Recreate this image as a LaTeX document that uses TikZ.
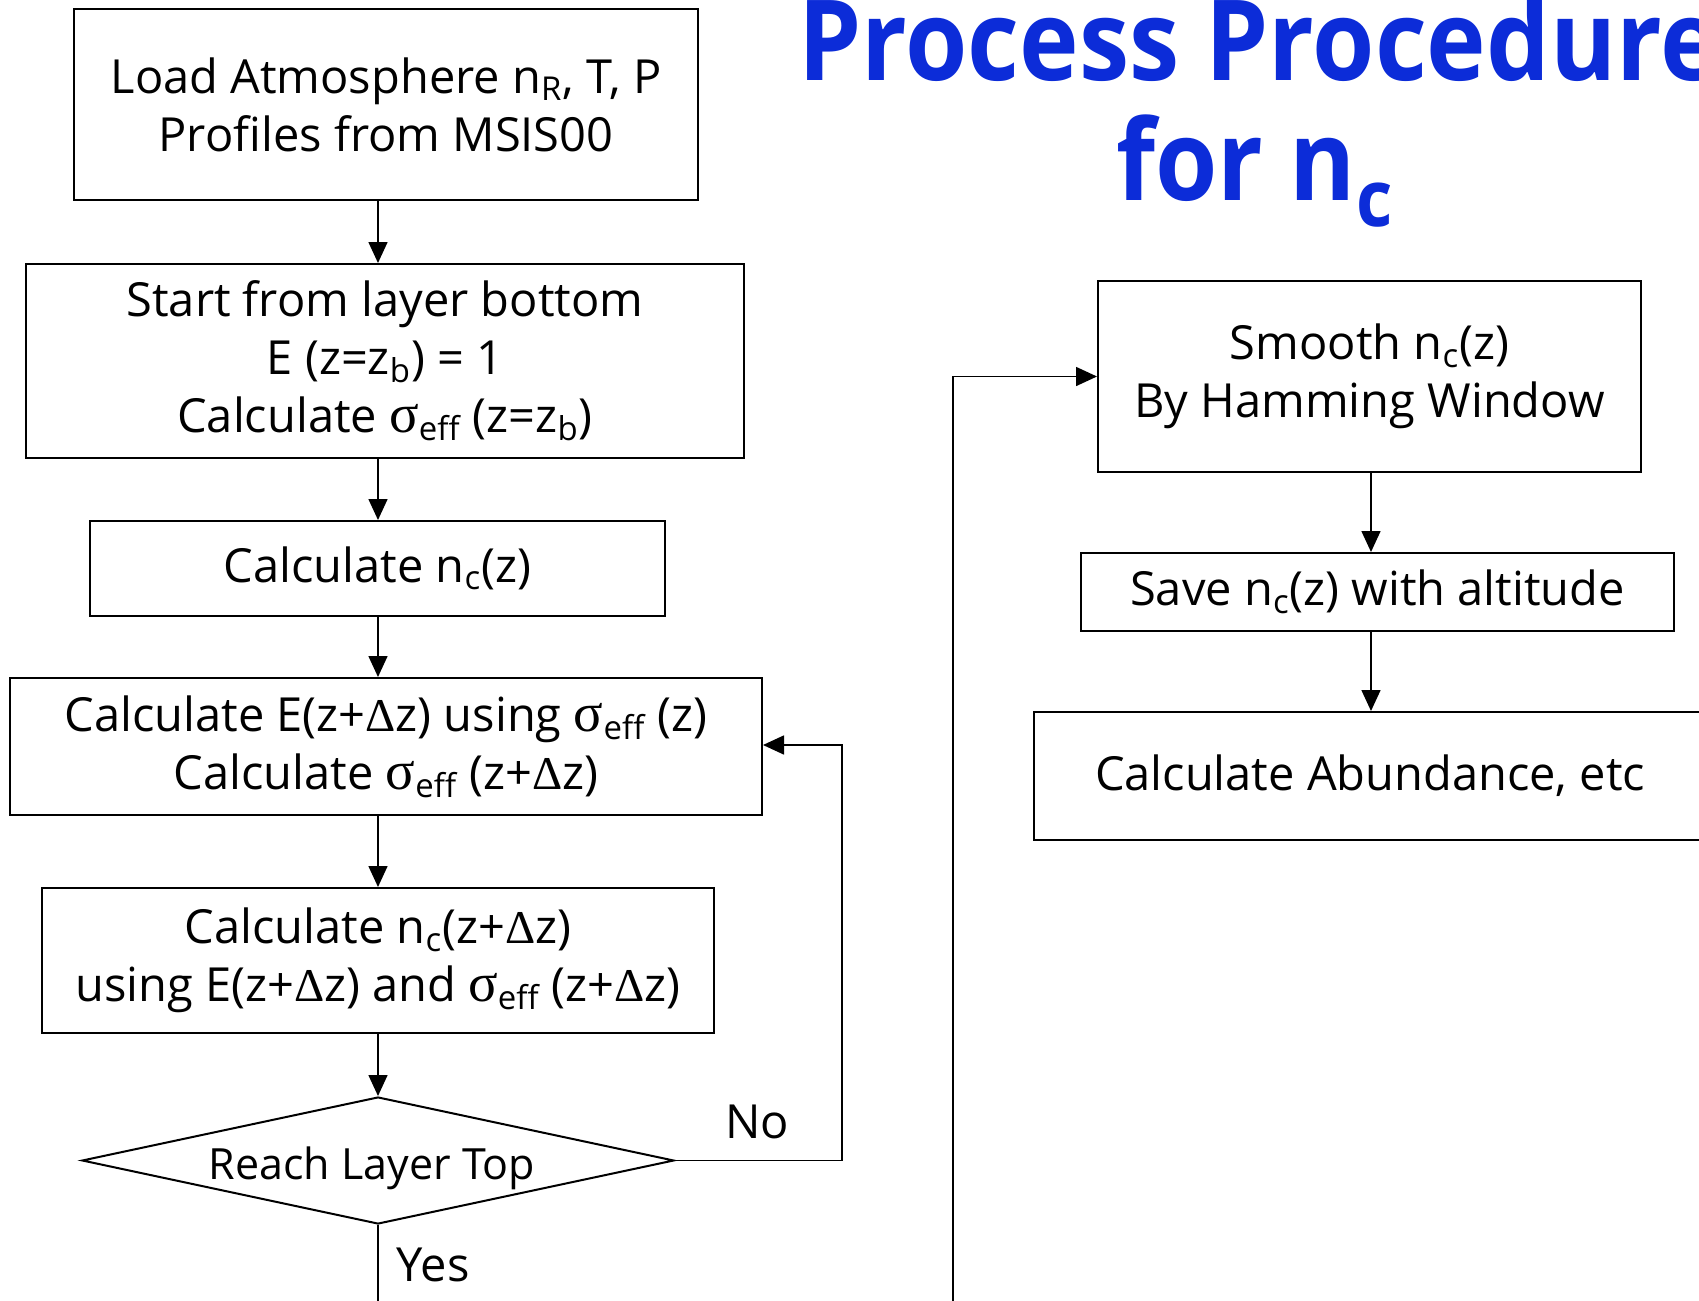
\documentclass[tikz,border=0pt]{standalone}
\usepackage{fontspec}
\setmainfont{Open Sans}
\newfontfamily\grk{Liberation Serif}
\usetikzlibrary{arrows.meta,shapes.geometric}
\definecolor{titleblue}{RGB}{12,44,216}
\newcommand{\sig}{{\grk\fontsize{27.5}{29}\selectfont σ}}
\newcommand{\Dl}{{\grk Δ}}
\newcommand{\mysub}[1]{\textsubscript{#1}}
\newcommand{\bodyfont}{\fontsize{23.5}{29}\selectfont}
\newcommand{\titlefont}{\fontsize{56}{60}\selectfont\bfseries}
\begin{document}
\begin{tikzpicture}[x=0.5pt,y=-0.5pt,
  box/.style={draw, line width=1pt, inner sep=0pt, align=center, font=\bodyfont},
  conn/.style={line width=0.8pt, -{Triangle[length=10.5pt,width=9.5pt]}},
  plain/.style={line width=0.8pt},
  lbl/.style={font=\bodyfont, inner sep=0pt},
  ttl/.style={anchor=base west, text=titleblue, font=\titlefont, inner sep=0pt}]
\useasboundingbox (0,0) rectangle (1699,1301);
\clip (0,0) rectangle (1699,1301);

% title
\node[ttl] (t1) at (798,80) {\scalebox{0.9}[1]{Process Procedure}};
\node[ttl] (t2) at (1116,200) {\scalebox{0.9}[1]{for n\mysub{c}}};

% left column
\node[box, minimum width=312pt, minimum height=95.5pt] (b1) at (386,104.5)
  {Load Atmosphere n\mysub{R}, T, P\\Profiles from MSIS00};
\node[box, minimum width=359pt, minimum height=97pt] (b2) at (385,361)
  {Start from layer bottom\\E (z=z\mysub{b}) = 1\\Calculate \sig\mysub{eff} (z=z\mysub{b})};
\node[box, minimum width=287.5pt, minimum height=47.5pt] (b3) at (377.5,568.5)
  {Calculate n\mysub{c}(z)};
\node[box, minimum width=376pt, minimum height=68.5pt] (b4) at (386,746.5)
  {Calculate E(z+\Dl z) using \sig\mysub{eff} (z)\\Calculate \sig\mysub{eff} (z+\Dl z)};
\node[box, minimum width=336pt, minimum height=72.5pt] (b5) at (378,960.5)
  {Calculate n\mysub{c}(z+\Dl z)\\using E(z+\Dl z) and \sig\mysub{eff} (z+\Dl z)};
\node[box, shape=diamond, aspect=4.66, minimum width=296pt, minimum height=63.5pt] (d) at (378,1160.5)
  {};
\node[font=\fontsize{21.5}{26}\selectfont, inner sep=0pt] (dt) at (372,1168) {Reach Layer Top};

% right column
\node[box, minimum width=271.5pt, minimum height=95.5pt] (b6) at (1369.5,376.5)
  {Smooth n\mysub{c}(z)\\By Hamming Window};
\node[box, minimum width=296.5pt, minimum height=39pt] (b7) at (1377.5,592)
  {Save n\mysub{c}(z) with altitude};
\node[box, minimum width=336pt, minimum height=64pt] (b8) at (1370,776)
  {Calculate Abundance, etc};

% labels
\node[lbl] (no) at (757,1122) {No};
\node[lbl] (yes) at (433,1265) {Yes};

% helper coordinates
\coordinate (sp) at (378,0);
\coordinate (rs) at (1371,0);
\coordinate (lp) at (842,745);
\coordinate (yend) at (378,1320);
\coordinate (rb) at (953,1320);

% connectors
\draw[conn] (b1.south -| sp) -- (b2.north -| sp);
\draw[conn] (b2.south -| sp) -- (b3.north -| sp);
\draw[conn] (b3.south -| sp) -- (b4.north -| sp);
\draw[conn] (b4.south -| sp) -- (b5.north -| sp);
\draw[conn] (b5.south -| sp) -- (d.north);
\draw[conn] (d.east) -- (d.east -| lp) -- (lp) -- (lp -| b4.east);
\draw[plain] (d.south) -- (yend);
\draw[conn] (rb) -- (rb |- b6.west) -- (b6.west);
\draw[conn] (b6.south -| rs) -- (b7.north -| rs);
\draw[conn] (b7.south -| rs) -- (b8.north -| rs);
\end{tikzpicture}
\end{document}
